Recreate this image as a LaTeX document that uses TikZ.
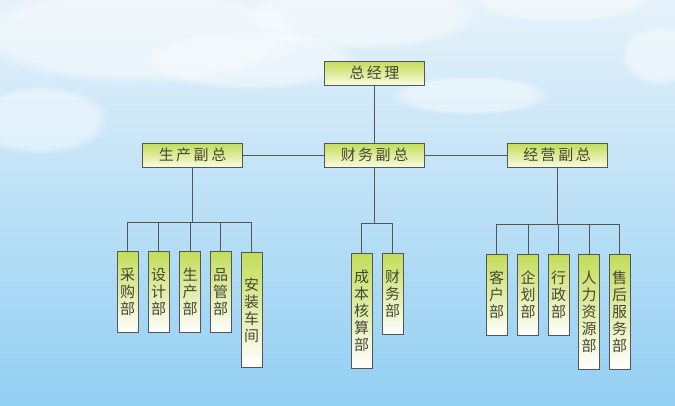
\documentclass[tikz,border=0pt]{standalone}
\usepackage{fontspec}
\newfontfamily\cjk{Noto Sans CJK SC}
\usetikzlibrary{positioning,fadings}

\definecolor{skytop}{HTML}{E6F2FA}
\definecolor{skymid}{HTML}{BADDF2}
\definecolor{skybot}{HTML}{93CFF3}
\definecolor{leaf}{HTML}{C3DC58}
\definecolor{pale}{HTML}{F8FBDF}
\definecolor{ink}{HTML}{474733}
\definecolor{rule}{HTML}{555555}

\begin{document}
\begin{tikzpicture}[x=1pt, y=-1pt, node distance=82pt, on grid,
  head/.style={draw=rule, line width=0.9pt, top color=leaf, bottom color=pale,
    minimum width=100pt, minimum height=24pt, inner sep=0pt, text=ink,
    font=\cjk\fontsize{15}{15}\selectfont},
  dept/.style={draw=rule, line width=0.9pt, top color=leaf, bottom color=white,
    minimum width=21pt, inner sep=0pt, anchor=north, align=center, text=ink,
    font=\cjk\fontsize{15}{17}\selectfont},
  deptS/.style={dept, minimum height=81pt},
  deptL/.style={dept, minimum height=115pt},
  link/.style={draw=rule, line width=1pt}]

  % sky
  \fill[top color=skytop, middle color=skymid, bottom color=skybot] (0,0) rectangle (675,405);
  \useasboundingbox (0,0) rectangle (675,405);
  \foreach \cx/\cy/\rx/\ry in {140/35/170/50, 360/15/120/35, 560/0/90/22, 660/55/40/30, 40/120/70/35, 470/95/80/20, 250/60/110/30}
    \fill[white, path fading=circle with fuzzy edge 20 percent, opacity=0.45] (\cx,\cy) ellipse (\rx pt and \ry pt);

  % heads
  \node[head] (GM) at (374.5,73) {总\,经\,理};
  \node[head] (Cw) [below=of GM] {财\,务\,副\,总};
  \node[head] (Sc) [left=182pt of Cw] {生\,产\,副\,总};
  \node[head] (Jy) [right=182.5pt of Cw] {经\,营\,副\,总};

  % departments
  \node[deptS] (C1) at (127.5,251) {采\\购\\部};
  \node[deptS] (C2) at (158.5,251) {设\\计\\部};
  \node[deptS] (C3) at (190,251) {生\\产\\部};
  \node[deptS] (C4) at (220.5,251) {品\\管\\部};
  \node[deptL] (C5) at (251.5,252) {安\\装\\车\\间};

  \node[deptL] (F1) at (361.5,253) {成\\本\\核\\算\\部};
  \node[deptS] (F2) at (392.5,253) {财\\务\\部};

  \node[deptS] (J1) at (496.5,254) {客\\户\\部};
  \node[deptS] (J2) at (528,254) {企\\划\\部};
  \node[deptS] (J3) at (558.5,254) {行\\政\\部};
  \node[deptL] (J4) at (589,254) {人\\力\\资\\源\\部};
  \node[deptL] (J5) at (619.5,254) {售\\后\\服\\务\\部};

  \path[link]
    (GM) edge (Cw)
    (Sc) edge (Cw)
    (Cw) edge (Jy);

  \path (Sc.south) ++(0,55) coordinate (Cbus);
  \path (Cw.south) ++(0,56) coordinate (Fbus);
  \path (Jy.south) ++(0,57) coordinate (Jbus);

  \draw[link] (Sc) -- (Cbus);
  \foreach \d in {C1,C2,C3,C4,C5}
    \draw[link] (Cbus) -| (\d);
  \draw[link] (Cw) -- (Fbus);
  \foreach \d in {F1,F2}
    \draw[link] (Fbus) -| (\d);
  \draw[link] (Jy) -- (Jbus);
  \foreach \d in {J1,J2,J3,J4,J5}
    \draw[link] (Jbus) -| (\d);

\end{tikzpicture}
\end{document}
